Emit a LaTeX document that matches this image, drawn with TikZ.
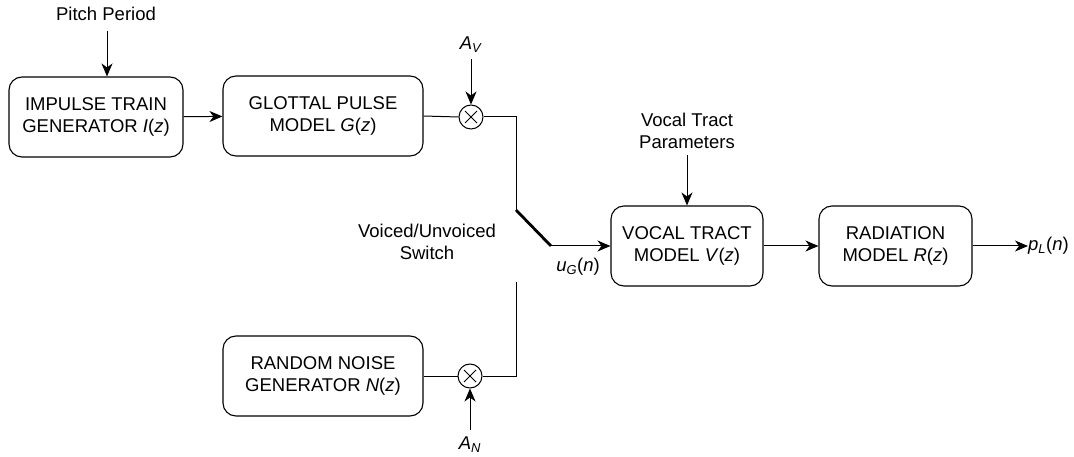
\documentclass[tikz,border=0pt]{standalone}
\usepackage{fontspec}
\setmainfont{Liberation Sans}
\usetikzlibrary{arrows.meta}
\newcommand\vr[1]{\textit{#1}}
\newcommand\sbs[1]{\textsubscript{\textit{#1}}}
\begin{document}
\begin{tikzpicture}[x=1pt,y=-1pt,
  font=\fontsize{18.5}{22}\selectfont,
  box/.style={draw,rounded corners=13pt,minimum width=174pt,minimum height=80pt,align=center,line width=1.1pt,inner sep=0pt},
  lbl/.style={align=center,inner sep=0pt},
  arr/.style={-{Stealth[length=13pt,width=11pt,inset=4pt]},line width=1pt},
  ln/.style={line width=1pt},
  mult/.style={draw,circle,minimum size=24pt,inner sep=0pt,line width=1pt}]
\useasboundingbox (0,0) rectangle (1074,457);

% boxes
\node[box] (imp) at (96,117) {IMPULSE TRAIN\\GENERATOR \vr{I}(\vr{z})};
\node[box,minimum width=200pt] (glot) at (323,116) {GLOTTAL PULSE\\MODEL \vr{G}(\vr{z})};
\node[box,minimum width=200pt] (rnd) at (323,376) {RANDOM NOISE\\GENERATOR \vr{N}(\vr{z})};
\node[box,minimum width=152pt] (voc) at (687,246) {VOCAL TRACT\\MODEL \vr{V}(\vr{z})};
\node[box,minimum width=153pt] (rad) at (895.5,246) {RADIATION\\MODEL \vr{R}(\vr{z})};

% multipliers
\node[mult] (m1) at (471,117) {};
\node[mult] (m2) at (470,376) {};
\foreach \m in {m1,m2}{
  \draw[line width=0.9pt] ([shift={(-6,-6)}]\m.center) -- ([shift={(6,6)}]\m.center);
  \draw[line width=0.9pt] ([shift={(-6,6)}]\m.center) -- ([shift={(6,-6)}]\m.center);
}

% labels
\node[lbl] (pitch) at (106,14) {Pitch Period};
\node[lbl] (av) at (471,45) {\vr{A}\sbs{V}};
\node[lbl] (an) at (470,445) {\vr{A}\sbs{N}};
\node[lbl] (vtp) at (687,131) {Vocal Tract\\Parameters};
\node[lbl] (vus) at (427,242) {Voiced/Unvoiced\\Switch};
\node[lbl] (ug) at (578,267) {\vr{u}\sbs{G}(\vr{n})};
\node[lbl,anchor=west] (pl) at (1028,246) {\vr{p}\sbs{L}(\vr{n})};

% switch coordinates
\coordinate (sw1) at (516,210);
\coordinate (sw2) at (551,246);
\coordinate (sw3) at (516,282);

% connectors
\draw[arr] (pitch.south -| 107,0) ++(0,10) coordinate (pa) -- (pa |- imp.north);
\draw[arr] (imp) -- (glot);
\draw[ln] (glot.east) -- (m1.west);
\draw[arr] (av.south) ++(0,6) coordinate (aa) -- (m1.north);
\draw[ln] (m1.east) -| (sw1);
\draw[line width=2.8pt] (sw1) -- (sw2);
\draw[arr] (sw2) -- (voc.west);
\draw[ln] (rnd.east) -- (m2.west);
\draw[ln] (m2.east) -| (sw3);
\draw[arr] (an.north) ++(0,-7) coordinate (na) -- (m2.south);
\draw[arr] (vtp.south) ++(0,6) coordinate (va) -- (voc.north);
\draw[arr] (voc) -- (rad);
\draw[arr] (rad) -- (pl.west);
\end{tikzpicture}
\end{document}
